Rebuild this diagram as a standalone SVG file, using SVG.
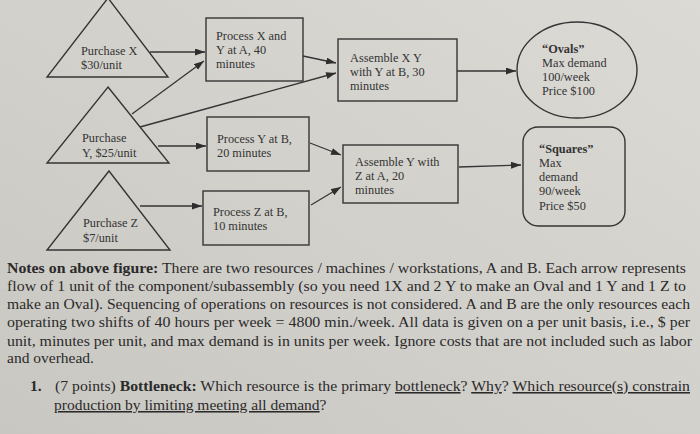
<svg xmlns="http://www.w3.org/2000/svg" width="700" height="434" viewBox="0 0 700 434">
<defs>
<linearGradient id="bg" x1="1" y1="0" x2="0" y2="1">
<stop offset="0" stop-color="#dcdad5"/>
<stop offset="1" stop-color="#c9c7c2"/>
</linearGradient>
<marker id="ah" markerUnits="userSpaceOnUse" markerWidth="11" markerHeight="8" refX="10" refY="3.5" orient="auto">
<path d="M0,0 L10,3.5 L0,7 z" fill="#2e2e2e"/>
</marker>
<style>
.shape{fill:none;stroke:#353535;stroke-width:1.4}
.lbl{font-family:"Liberation Serif","Times New Roman",serif;font-size:12.3px;fill:#333}
.b{font-weight:bold}
.conn line{stroke:#353535;stroke-width:1.3;marker-end:url(#ah)}
.para{font-family:"Liberation Serif","Times New Roman",serif;font-size:15.5px;fill:#2a2a2a}
.u{text-decoration:underline}
</style>
</defs>
<rect width="700" height="434" fill="url(#bg)"/>

<g id="purchaseX">
<polygon class="shape" points="108,-2 168,77 47,77"/>
<text class="lbl" x="81" y="55">Purchase X</text>
<text class="lbl" x="81" y="69">$30/unit</text>
</g>
<g id="purchaseY">
<polygon class="shape" points="108,87 169,163 47,163"/>
<text class="lbl" x="82" y="142">Purchase</text>
<text class="lbl" x="82" y="157">Y, $25/unit</text>
</g>
<g id="purchaseZ">
<polygon class="shape" points="109,171 170,250 47,250"/>
<text class="lbl" x="83" y="227">Purchase Z</text>
<text class="lbl" x="83" y="242">$7/unit</text>
</g>
<g id="processX">
<rect class="shape" x="206" y="18" width="97" height="63"/>
<text class="lbl" x="216" y="40">Process X and</text>
<text class="lbl" x="216" y="54">Y at A, 40</text>
<text class="lbl" x="216" y="68">minutes</text>
</g>
<g id="processY">
<rect class="shape" x="207" y="117" width="102" height="54"/>
<text class="lbl" x="217" y="143">Process Y at B,</text>
<text class="lbl" x="217" y="157">20 minutes</text>
</g>
<g id="processZ">
<rect class="shape" x="203" y="191" width="106" height="54"/>
<text class="lbl" x="213" y="216">Process Z at B,</text>
<text class="lbl" x="213" y="230">10 minutes</text>
</g>
<g id="assembleXY">
<rect class="shape" x="338" y="39" width="119" height="62"/>
<text class="lbl" x="350" y="62">Assemble X Y</text>
<text class="lbl" x="350" y="76">with Y at B, 30</text>
<text class="lbl" x="350" y="90">minutes</text>
</g>
<g id="assembleYZ">
<rect class="shape" x="343" y="145" width="115" height="58"/>
<text class="lbl" x="355" y="166">Assemble Y with</text>
<text class="lbl" x="355" y="180">Z at A, 20</text>
<text class="lbl" x="355" y="194">minutes</text>
</g>
<g id="ovals">
<ellipse class="shape" cx="577" cy="70" rx="60" ry="48"/>
<text class="lbl b" x="542" y="53">“Ovals”</text>
<text class="lbl" x="542" y="67">Max demand</text>
<text class="lbl" x="542" y="81">100/week</text>
<text class="lbl" x="542" y="95">Price $100</text>
</g>
<g id="squares">
<rect class="shape" x="523" y="127" width="102" height="99" rx="15"/>
<text class="lbl b" x="539" y="153">“Squares”</text>
<text class="lbl" x="539" y="167">Max</text>
<text class="lbl" x="539" y="181">demand</text>
<text class="lbl" x="539" y="195">90/week</text>
<text class="lbl" x="539" y="210">Price $50</text>
</g>

<g id="connectors" class="conn">
<line x1="150" y1="52" x2="205" y2="52"/>
<line x1="132" y1="114" x2="204" y2="61"/>
<line x1="303" y1="56" x2="336" y2="63"/>
<line x1="140" y1="127" x2="336" y2="73"/>
<line x1="457" y1="71" x2="516" y2="71"/>
<line x1="158" y1="146" x2="206" y2="146"/>
<line x1="310" y1="143" x2="341" y2="155"/>
<line x1="140" y1="206" x2="202" y2="206"/>
<line x1="311" y1="205" x2="341" y2="187"/>
<line x1="459" y1="167" x2="521" y2="165"/>
</g>

<g id="notes">
<text class="para" x="7" y="273" textLength="679" lengthAdjust="spacingAndGlyphs"><tspan font-weight="bold">Notes on above figure:</tspan> There are two resources / machines / workstations, A and B. Each arrow represents</text>
<text class="para" x="7" y="291" textLength="679" lengthAdjust="spacingAndGlyphs">flow of 1 unit of the component/subassembly (so you need 1X and 2 Y to make an Oval and 1 Y and 1 Z to</text>
<text class="para" x="7" y="309" textLength="683" lengthAdjust="spacingAndGlyphs">make an Oval). Sequencing of operations on resources is not considered. A and B are the only resources each</text>
<text class="para" x="7" y="327" textLength="683" lengthAdjust="spacingAndGlyphs">operating two shifts of 40 hours per week = 4800 min./week. All data is given on a per unit basis, i.e., $ per</text>
<text class="para" x="7" y="346" textLength="685" lengthAdjust="spacingAndGlyphs">unit, minutes per unit, and max demand is in units per week. Ignore costs that are not included such as labor</text>
<text class="para" x="7" y="363">and overhead.</text>
<text class="para" x="30" y="391"><tspan font-weight="bold">1.</tspan></text>
<text class="para" x="55" y="391" textLength="635" lengthAdjust="spacingAndGlyphs">(7 points) <tspan font-weight="bold">Bottleneck:</tspan> Which resource is the primary <tspan class="u">bottleneck</tspan>? <tspan class="u">Why</tspan>? <tspan class="u">Which resource(s) constrain</tspan></text>
<text class="para" x="54" y="410"><tspan class="u">production by limiting meeting all demand</tspan>?</text>
</g>
</svg>
